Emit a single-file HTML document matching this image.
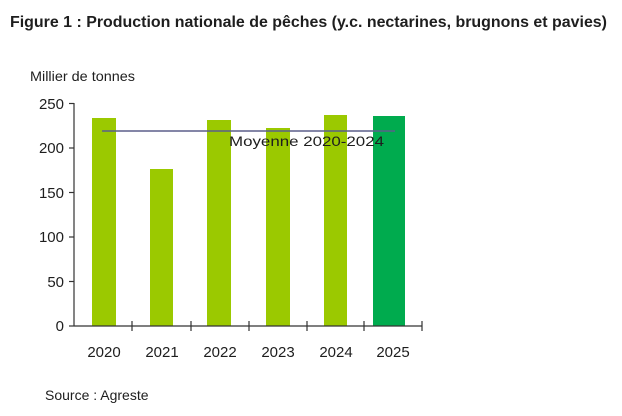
<!DOCTYPE html>
<html><head><meta charset="utf-8"><style>
html,body{margin:0;padding:0;background:#fff;}
svg{display:block;font-family:"Liberation Sans",sans-serif;}
</style></head><body>
<svg width="622" height="416" viewBox="0 0 622 416" xmlns="http://www.w3.org/2000/svg">
<rect width="622" height="416" fill="#fff"/>
<text x="10" y="27" font-size="16" font-weight="bold" fill="#1e1e1e" textLength="597" lengthAdjust="spacingAndGlyphs">Figure 1 : Production nationale de pêches (y.c. nectarines, brugnons et pavies)</text>
<text x="30" y="81" font-size="14" fill="#1e1e1e" textLength="105" lengthAdjust="spacingAndGlyphs">Millier de tonnes</text>
<g fill="#9bc900">
<rect x="92" y="118" width="24" height="208"/>
<rect x="150" y="169" width="23" height="157"/>
<rect x="207" y="120" width="24" height="206"/>
<rect x="266" y="128" width="24" height="198"/>
<rect x="324" y="115" width="23" height="211"/>
</g>
<rect x="373" y="116" width="32" height="210" fill="#00ab4e"/>
<line x1="102" y1="131" x2="395" y2="131" stroke="#5b5f8a" stroke-width="1.5"/>
<text x="229" y="146" font-size="14" fill="#1e1e1e" textLength="155" lengthAdjust="spacingAndGlyphs">Moyenne 2020-2024</text>
<g stroke="#333" stroke-width="1.2">
<line x1="74" y1="103" x2="74" y2="326"/>
<line x1="74" y1="326" x2="422" y2="326"/>
<line x1="69" y1="103.5" x2="74" y2="103.5"/>
<line x1="69" y1="148" x2="74" y2="148"/>
<line x1="69" y1="192.5" x2="74" y2="192.5"/>
<line x1="69" y1="237" x2="74" y2="237"/>
<line x1="69" y1="281.5" x2="74" y2="281.5"/>
<line x1="69" y1="326" x2="74" y2="326"/>
<line x1="132" y1="321" x2="132" y2="331"/>
<line x1="191" y1="321" x2="191" y2="331"/>
<line x1="249" y1="321" x2="249" y2="331"/>
<line x1="307" y1="321" x2="307" y2="331"/>
<line x1="364" y1="321" x2="364" y2="331"/>
<line x1="422" y1="321" x2="422" y2="331"/>
</g>
<g font-size="15" fill="#1e1e1e" text-anchor="end">
<text x="64" y="109">250</text>
<text x="64" y="153">200</text>
<text x="64" y="198">150</text>
<text x="64" y="242">100</text>
<text x="64" y="287">50</text>
<text x="64" y="331">0</text>
</g>
<g font-size="15" fill="#1e1e1e" text-anchor="middle">
<text x="104" y="357">2020</text>
<text x="162" y="357">2021</text>
<text x="220" y="357">2022</text>
<text x="278" y="357">2023</text>
<text x="336" y="357">2024</text>
<text x="393" y="357">2025</text>
</g>
<text x="45" y="400" font-size="14" fill="#1e1e1e">Source : Agreste</text>
</svg>
</body></html>
